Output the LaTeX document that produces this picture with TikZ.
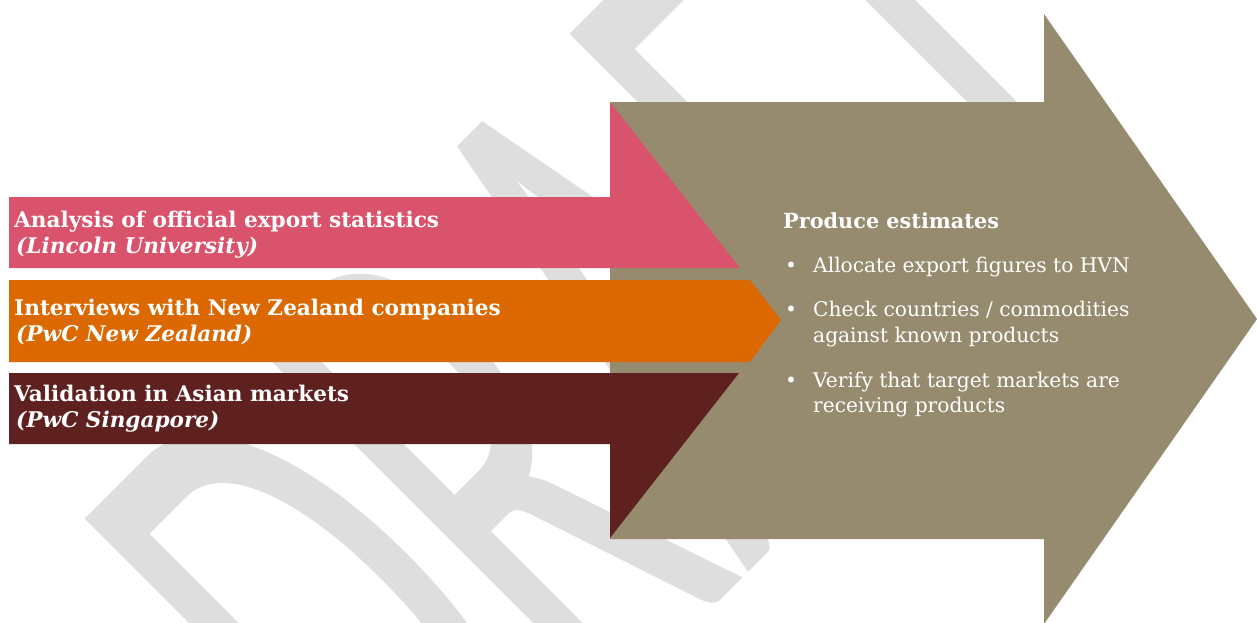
\documentclass[tikz,border=0pt]{standalone}
\usepackage{fontspec}
\setmainfont{DejaVu Serif}
\newfontfamily\wmfont{Carlito}
\definecolor{khaki}{HTML}{968B6E}
\definecolor{rosered}{HTML}{DA536C}
\definecolor{burnt}{HTML}{DB6800}
\definecolor{maroon}{HTML}{5F2120}
\definecolor{wmgray}{HTML}{DEDEDE}
\begin{document}
\begin{tikzpicture}[x=1pt,y=-1pt,
  srctitle/.style={anchor=base west, inner sep=0pt, text=white,
    font=\fontsize{21.6}{24}\selectfont\bfseries},
  srcname/.style={anchor=base west, inner sep=0pt, text=white,
    font=\fontsize{21.6}{24}\selectfont\bfseries\itshape},
  headline/.style={anchor=base west, inner sep=0pt, text=white,
    font=\fontsize{20.8}{24}\selectfont\bfseries},
  itemtext/.style={anchor=base west, inner sep=0pt, text=white,
    font=\fontsize{20.2}{24}\selectfont},
  bulletmark/.style={anchor=base west, inner sep=0pt, text=white,
    font=\fontsize{20.2}{24}\selectfont},
  watermark/.style={anchor=base west, inner sep=0pt, text=wmgray,
    font=\wmfont\fontsize{395}{400}\selectfont}]

\useasboundingbox (0,0) rectangle (1257,622);
\fill[white] (0,0) rectangle (1257,622);

% faint watermark behind everything
\begin{scope}
  \clip (0,0) rectangle (1257,622);
  \node[watermark, rotate=45, yscale=2] (wm) at (424,897) {DRAFT};
\end{scope}

% large arrow that collects the three inputs
\fill[khaki] (610,102) -- (1044,102) -- (1044,14) -- (1257,319)
  -- (1044,624) -- (1044,539) -- (610,539) -- cycle;

% three input arrows
\fill[rosered] (9,197) -- (610,197) -- (610,102) -- (740,268) -- (9,268) -- cycle;
\fill[burnt] (9,280) -- (750,280) -- (781,320) -- (750,362) -- (9,362) -- cycle;
\fill[maroon] (9,373) -- (739,373) -- (610,538) -- (610,444) -- (9,444) -- cycle;

% input labels
\node[srctitle] (a1) at (14,227) {Analysis of official export statistics};
\node[srcname]  (a2) at (16,253) {(Lincoln University)};
\node[srctitle] (b1) at (14,315) {Interviews with New Zealand companies};
\node[srcname]  (b2) at (16,341) {(PwC New Zealand)};
\node[srctitle] (c1) at (14,401) {Validation in Asian markets};
\node[srcname]  (c2) at (16,427) {(PwC Singapore)};

% output description
\node[headline] (h) at (783,228) {Produce estimates};
\node[bulletmark] (p1) at (785,272) {\textbullet};
\node[itemtext] (t1) at (813,272) {Allocate export figures to HVN};
\node[bulletmark] (p2) at (785,316) {\textbullet};
\node[itemtext] (t2) at (813,316) {Check countries / commodities};
\node[itemtext] (t2b) at (813,342.5) {against known products};
\node[bulletmark] (p3) at (785,387) {\textbullet};
\node[itemtext] (t3) at (813,387) {Verify that target markets are};
\node[itemtext] (t3b) at (813,412) {receiving products};
\end{tikzpicture}
\end{document}
